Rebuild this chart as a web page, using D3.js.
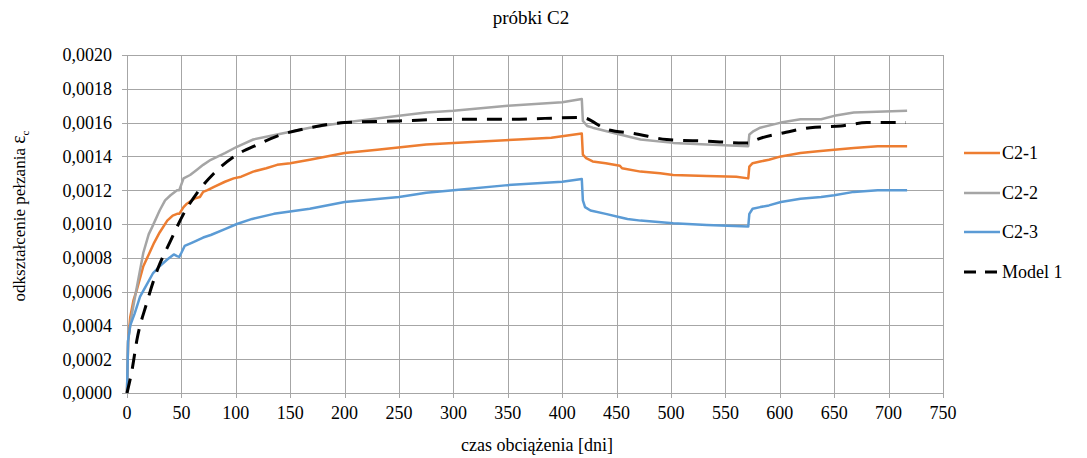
<!DOCTYPE html>
<html>
<head>
<meta charset="utf-8">
<script src="https://cdn.jsdelivr.net/npm/d3@7"></script>
<style>
  body { margin: 0; background: #fff; }
  svg { font-family: "Liberation Serif", "Times New Roman", serif; }
</style>
</head>
<body>
<svg width="1087" height="458"></svg>
<script>
// C2-1
const c21Days = [0, 1, 3, 6, 9, 15, 20, 25, 30, 37, 42, 46, 48, 52, 55, 62, 67, 70, 74, 80, 90, 98, 105, 116, 128, 138, 150, 168, 200, 230, 260, 275, 300, 330, 360, 390, 418, 419, 422, 428, 440, 453, 455, 472, 490, 502, 533, 560, 571, 572, 575, 582, 590, 601, 619, 635, 650, 668, 690, 717];
const c21Vals = [0, 0.0003, 0.00045, 0.00055, 0.00061, 0.00075, 0.00082, 0.00089, 0.00095, 0.00102, 0.00105, 0.00106, 0.00106, 0.0011, 0.00112, 0.00115, 0.00116, 0.00119, 0.0012, 0.00122, 0.00125, 0.00127, 0.00128, 0.00131, 0.00133, 0.00135, 0.00136, 0.00138, 0.00142, 0.00144, 0.00146, 0.00147, 0.00148, 0.00149, 0.0015, 0.00151, 0.001535, 0.00141, 0.00139, 0.00137, 0.00136, 0.001345, 0.00133, 0.00131, 0.0013, 0.00129, 0.001284, 0.00128, 0.00127, 0.00134, 0.00136, 0.00137, 0.00138, 0.0014, 0.00142, 0.00143, 0.00144, 0.00145, 0.00146, 0.00146];

// C2-2
const c22Days = [0, 1, 4, 8, 15, 20, 23, 30, 35, 40, 46, 48, 52, 58, 64, 70, 77, 90, 101, 116, 138, 168, 200, 250, 275, 300, 350, 400, 418, 419, 423, 428, 440, 453, 472, 502, 533, 571, 572, 576, 582, 601, 619, 638, 650, 668, 717];
const c22Vals = [0, 0.00031, 0.00045, 0.00059, 0.00083, 0.00094, 0.00098, 0.00108, 0.00114, 0.00117, 0.0012, 0.0012, 0.00127, 0.00129, 0.00132, 0.00135, 0.00138, 0.00142, 0.001457, 0.0015, 0.00153, 0.00157, 0.0016, 0.00164, 0.00166, 0.00167, 0.0017, 0.00172, 0.00174, 0.00161, 0.00158, 0.00157, 0.00155, 0.00153, 0.0015, 0.00148, 0.00147, 0.00146, 0.00153, 0.00155, 0.00157, 0.0016, 0.00162, 0.00162, 0.00164, 0.00166, 0.00167];

// C2-3
const c23Days = [0, 1, 3, 7, 12, 18, 24, 30, 37, 43, 46, 48, 50, 53, 60, 70, 77, 90, 101, 115, 135, 168, 200, 250, 275, 300, 350, 400, 418, 419, 421, 426, 440, 453, 460, 472, 502, 533, 571, 572, 575, 582, 590, 601, 619, 638, 650, 668, 690, 717];
const c23Vals = [0, 0.00031, 0.0004, 0.00047, 0.00057, 0.00064, 0.00071, 0.00075, 0.00079, 0.00082, 0.00081, 0.000805, 0.00083, 0.00087, 0.00089, 0.00092, 0.000935, 0.00097, 0.001, 0.00103, 0.00106, 0.00109, 0.00113, 0.00116, 0.001185, 0.0012, 0.00123, 0.00125, 0.001266, 0.00114, 0.0011, 0.00108, 0.00106, 0.00104, 0.00103, 0.00102, 0.001005, 0.000994, 0.000985, 0.00106, 0.00109, 0.0011, 0.00111, 0.00113, 0.00115, 0.00116, 0.00117, 0.00119, 0.0012, 0.0012];

// Model 1
const modelDays = [0, 5, 9, 18, 28, 40, 52, 64, 80, 101, 120, 138, 168, 200, 250, 300, 350, 418, 441, 466, 496, 533, 567, 572, 579, 604, 628, 656, 680, 716];
const modelVals = [0, 0.00015, 0.00031, 0.00053, 0.00073, 0.0009, 0.00106, 0.00118, 0.0013, 0.00141, 0.00147, 0.00152, 0.00157, 0.0016, 0.00161, 0.00162, 0.00162, 0.00163, 0.00156, 0.001536, 0.0015, 0.00149, 0.00148, 0.00148, 0.0015, 0.00154, 0.00157, 0.00158, 0.0016, 0.0016];

const seriesNames = ["C2-1", "C2-2", "C2-3", "Model 1"];
const xTicks = d3.range(0, 751, 50);
const yTicks = d3.range(0, 0.00201, 0.0002);

const svg = d3.select("svg");
const plotL = 127, plotR = 943, plotT = 55, plotB = 393;

const x = d3.scaleLinear().domain([0, 750]).range([plotL, plotR]);
const y = d3.scaleLinear().domain([0, 0.002]).range([plotB, plotT]);
const fmt = (v) => d3.format(".4f")(v).replace(".", ",");

// grid
const grid = svg.append("g").attr("stroke", "#a6a6a6").attr("stroke-width", 1);
grid.selectAll(".gx").data(xTicks).enter().append("line")
  .attr("x1", (d) => Math.round(x(d)) + 0.5).attr("x2", (d) => Math.round(x(d)) + 0.5)
  .attr("y1", plotT).attr("y2", plotB + 5);
grid.selectAll(".gy").data(yTicks).enter().append("line")
  .attr("x1", plotL - 5).attr("x2", plotR)
  .attr("y1", (d) => Math.round(y(d)) + 0.5).attr("y2", (d) => Math.round(y(d)) + 0.5);

// axes labels
svg.append("g").selectAll("text").data(yTicks).enter().append("text")
  .attr("x", 112).attr("y", (d) => y(d)).attr("dy", "0.35em")
  .attr("text-anchor", "end").attr("font-size", 18).attr("fill", "#000")
  .text(fmt);
svg.append("g").selectAll("text").data(xTicks).enter().append("text")
  .attr("x", (d) => x(d)).attr("y", 419)
  .attr("text-anchor", "middle").attr("font-size", 18).attr("fill", "#000")
  .text((d) => d);

svg.append("text").attr("x", 531).attr("y", 24).attr("text-anchor", "middle")
  .attr("font-size", 19).text("próbki C2");
svg.append("text").attr("x", 537).attr("y", 451).attr("text-anchor", "middle")
  .attr("font-size", 18).text("czas obciążenia [dni]");
const yt = svg.append("text").attr("transform", "translate(25,216) rotate(-90)")
  .attr("text-anchor", "middle").attr("font-size", 17);
yt.append("tspan").text("odkształcenie pełzania ");
yt.append("tspan").attr("font-size", 20).text("ε");
yt.append("tspan").attr("font-size", 11).attr("dy", 4).text("c");

// series
const series = [
  { name: seriesNames[0], days: c21Days, vals: c21Vals, color: "#ed7d31", dash: null, w: 2.5 },
  { name: seriesNames[1], days: c22Days, vals: c22Vals, color: "#a5a5a5", dash: null, w: 2.5 },
  { name: seriesNames[2], days: c23Days, vals: c23Vals, color: "#5b9bd5", dash: null, w: 2.5 },
  { name: seriesNames[3], days: modelDays, vals: modelVals, color: "#000", dash: "15,10", w: 3 },
];

series.forEach((s) => {
  const pts = s.days.map((d, i) => [d, s.vals[i]]);
  const line = d3.line().x((p) => x(p[0])).y((p) => y(p[1]))
    .curve(s.dash ? d3.curveMonotoneX : d3.curveLinear);
  svg.append("path").datum(pts)
    .attr("fill", "none").attr("stroke", s.color).attr("stroke-width", s.w)
    .attr("stroke-linejoin", "round")
    .attr("stroke-dasharray", s.dash)
    .attr("d", line);
});

// legend
const legY = [153, 193, 232, 272];
const leg = svg.append("g");
series.forEach((s, i) => {
  leg.append("line").attr("x1", 964).attr("x2", 1000)
    .attr("y1", legY[i]).attr("y2", legY[i])
    .attr("stroke", s.color).attr("stroke-width", s.w)
    .attr("stroke-dasharray", s.dash ? "12,9" : null);
  leg.append("text").attr("x", 1002).attr("y", legY[i]).attr("dy", "0.35em")
    .attr("font-size", 18).text(s.name);
});
</script>
</body>
</html>
